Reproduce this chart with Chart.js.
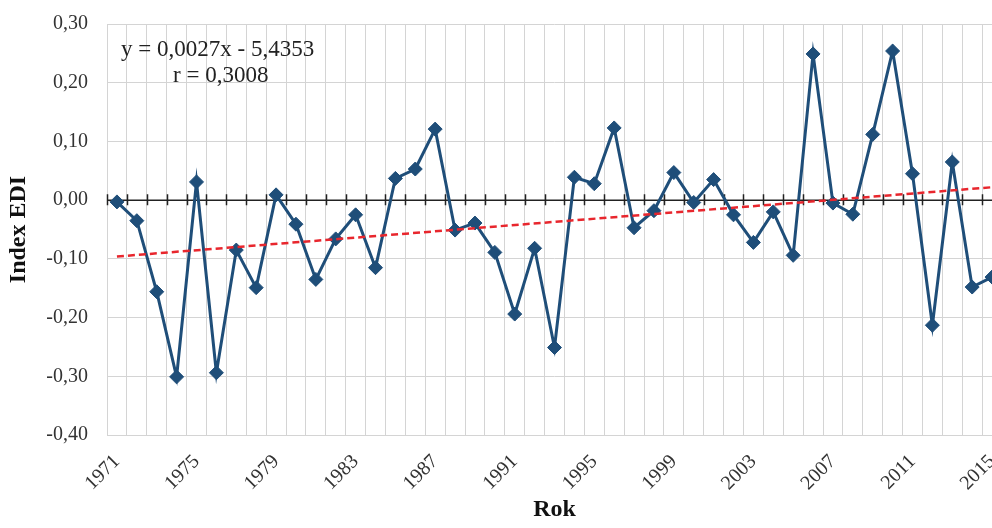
<!DOCTYPE html>
<html>
<head>
<meta charset="utf-8">
<script src="https://cdn.jsdelivr.net/npm/chart.js@4.4.1/dist/chart.umd.min.js"></script>
<style>
  html, body { margin: 0; padding: 0; background: #fff; overflow: hidden; }
  canvas { display: block; }
</style>
</head>
<body>
<canvas id="edi" width="1012" height="528"></canvas>
<script>
// years on the category axis
const years = [
  1971, 1972, 1973, 1974, 1975, 1976, 1977, 1978, 1979, 1980,
  1981, 1982, 1983, 1984, 1985, 1986, 1987, 1988, 1989, 1990,
  1991, 1992, 1993, 1994, 1995, 1996, 1997, 1998, 1999, 2000,
  2001, 2002, 2003, 2004, 2005, 2006, 2007, 2008, 2009, 2010,
  2011, 2012, 2013, 2014, 2015
];

// Index EDI
const ediValues = [
  -0.003, -0.035, -0.156, -0.301, 0.031, -0.294, -0.085, -0.149, 0.009, -0.041,
  -0.135, -0.066, -0.025, -0.115, 0.037, 0.053, 0.121, -0.051, -0.039, -0.089,
  -0.194, -0.082, -0.251, 0.039, 0.028, 0.123, -0.047, -0.018, 0.047, -0.004,
  0.035, -0.025, -0.072, -0.020, -0.094, 0.249, -0.005, -0.024, 0.112, 0.254,
  0.045, -0.213, 0.065, -0.148, -0.131
];

// linear trend: value at first and last year (as drawn)
const trendStart = -0.096;
const trendEnd = 0.022;

const yTicks = [-0.4, -0.3, -0.2, -0.1, 0, 0.1, 0.2, 0.3];
const equationLines = ['y = 0,0027x - 5,4353', 'r = 0,3008'];

const trendValues = years.map((y, i) => i === 0 ? trendStart : (i === years.length - 1 ? trendEnd : null));

const serif = '"Liberation Serif", "Times New Roman", serif';
const fmt = v => Math.abs(v) < 1e-9 ? '0,00' : v.toFixed(2).replace('.', ',');

// black zero axis with small tick marks between categories
const zeroAxis = {
  id: 'zeroAxis',
  beforeDatasetsDraw(chart) {
    const { ctx, chartArea, scales: { x, y } } = chart;
    const y0 = y.getPixelForValue(0);
    const step = x.getPixelForValue(1) - x.getPixelForValue(0);
    ctx.save();
    ctx.strokeStyle = '#222';
    ctx.lineWidth = 1.5;
    ctx.beginPath();
    ctx.moveTo(chartArea.left, y0);
    ctx.lineTo(chartArea.right, y0);
    for (let i = 0; i <= years.length; i++) {
      const px = Math.round(x.getPixelForValue(i) - step / 2) + 0.5;
      ctx.moveTo(px, y0 - 6);
      ctx.lineTo(px, y0 + 5);
    }
    ctx.stroke();
    ctx.restore();
  }
};

// regression text in the upper left corner
const equation = {
  id: 'equation',
  afterDraw(chart) {
    const { ctx, chartArea } = chart;
    ctx.save();
    ctx.fillStyle = '#222';
    ctx.font = '23px ' + serif;
    ctx.textBaseline = 'alphabetic';
    ctx.fillText(equationLines[0], chartArea.left + 14, chartArea.top + 32);
    ctx.fillText(equationLines[1], chartArea.left + 66, chartArea.top + 58);
    ctx.restore();
  }
};

new Chart(document.getElementById('edi'), {
  type: 'line',
  data: {
    labels: years.map(String),
    datasets: [
      {
        label: 'trend',
        data: trendValues,
        spanGaps: true,
        borderColor: '#e8262d',
        borderWidth: 2.5,
        borderDash: [7, 4],
        pointRadius: 0,
        order: 0
      },
      {
        label: 'Index EDI',
        data: ediValues,
        borderColor: '#1f4e79',
        backgroundColor: '#1f4e79',
        borderWidth: 3,
        pointStyle: 'rectRot',
        pointRadius: 7,
        pointBorderWidth: 1,
        tension: 0,
        order: 1
      }
    ]
  },
  options: {
    responsive: false,
    animation: false,
    layout: { padding: { top: 24, right: 10, bottom: 0, left: 0 } },
    plugins: { legend: { display: false }, tooltip: { enabled: false } },
    scales: {
      x: {
        type: 'category',
        offset: true,
        grid: { offset: true, color: '#d4d4d4', drawTicks: false },
        border: { color: '#d4d4d4' },
        ticks: {
          autoSkip: false,
          maxRotation: 45,
          minRotation: 45,
          padding: 15,
          color: '#333',
          font: { family: serif, size: 20 },
          callback: (v, i) => i % 4 === 0 ? String(years[i]) : ''
        },
        title: {
          display: true,
          text: 'Rok',
          color: '#111',
          font: { family: serif, size: 24, weight: 'bold' },
          padding: { top: 4, bottom: 4 }
        },
        afterFit: s => { s.height = 93; s.paddingLeft = 0; s.paddingRight = 0; }
      },
      y: {
        min: -0.4,
        max: 0.3,
        afterBuildTicks: s => { s.ticks = yTicks.map(v => ({ value: v })); },
        grid: { color: '#d4d4d4', drawTicks: false },
        border: { display: false },
        ticks: {
          padding: 19,
          color: '#333',
          font: { family: serif, size: 20 },
          callback: v => fmt(v)
        },
        title: {
          display: true,
          text: 'Index EDI',
          color: '#111',
          font: { family: serif, size: 24, weight: 'bold' },
          padding: { top: 4, bottom: 4 }
        },
        afterFit: s => { s.width = 107; s.paddingTop = 0; s.paddingBottom = 0; }
      }
    }
  },
  plugins: [zeroAxis, equation]
});
</script>
</body>
</html>
